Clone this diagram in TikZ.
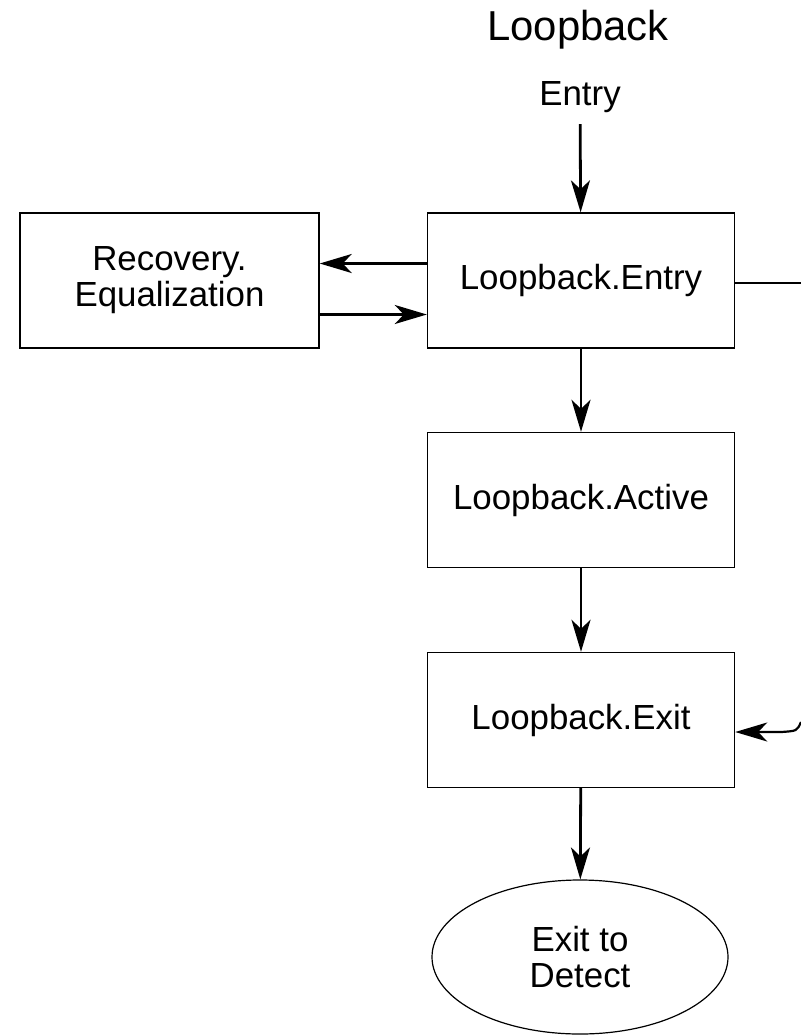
\documentclass[tikz,border=0pt]{standalone}
\usepackage{fontspec}
\setmainfont{Liberation Sans}
\usetikzlibrary{arrows.meta,shapes.geometric}
\tikzset{
  state/.style={draw,line width=1.4bp,minimum width=307bp,minimum height=135bp,inner sep=0pt,align=center},
  flow/.style={line width=2.8bp,->},
}
\begin{document}
\begin{tikzpicture}[x=1bp,y=-1bp,>={Stealth[length=32bp,width=19bp,inset=9bp]},font=\fontsize{35}{36}\selectfont]
\useasboundingbox (0,0) rectangle (801,1035);
\node (title) at (578,30) {\fontsize{42}{44}\selectfont Loopback};
\node (start) at (580,97) {Entry};
\node[state] (lbentry) at (581,280.5) {Loopback.Entry};
\node[state,minimum width=299bp] (recovery) at (169.5,280.5) {Recovery.\\Equalization};
\node[state] (active) at (581,500) {Loopback.Active};
\node[state] (lbexit) at (581,720) {Loopback.Exit};
\node[draw,line width=1.2bp,ellipse,minimum width=296bp,minimum height=154bp,inner sep=0pt,align=center] (detect) at (580,957) {Exit to\\Detect};
\coordinate (r1) at (801,283);
\coordinate (r2) at (801,722);
\coordinate (r3) at (781,732);
% arrows
\draw[flow,shorten <=8bp] (start) -- (lbentry);
\draw[flow] ([yshift=17bp]lbentry.west) -- ([yshift=17bp]recovery.east);
\draw[flow] ([yshift=-34bp]recovery.east) -- ([yshift=-34bp]lbentry.west);
\draw[flow] (lbentry) -- (active);
\draw[flow] (active) -- (lbexit);
\draw[flow] (lbexit) -- (detect);
\draw[line width=1.8bp] (lbentry.east |- r1) -- (r1);
\draw[flow,line width=2.2bp] (r2) .. controls (797,731) .. (r3) -- (lbexit.east |- r3);
\end{tikzpicture}
\end{document}
